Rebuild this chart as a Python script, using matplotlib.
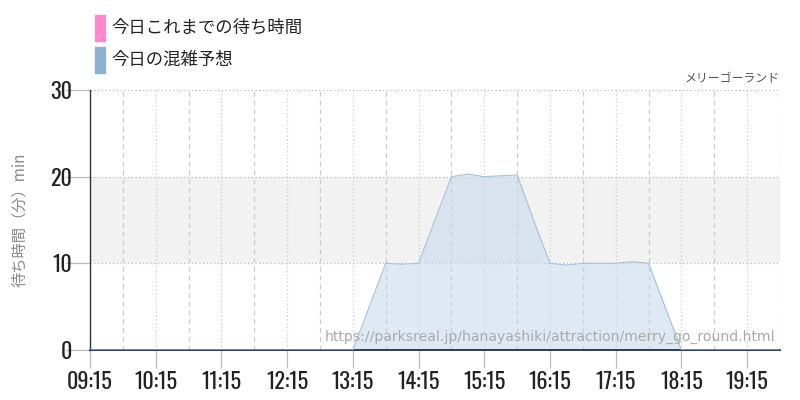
import matplotlib
matplotlib.use("Agg")
import matplotlib.pyplot as plt
from matplotlib.patches import Rectangle
import numpy as np

# ---- data ----
tick_labels = ["09:15", "10:15", "11:15", "12:15", "13:15", "14:15",
               "15:15", "16:15", "17:15", "18:15", "19:15"]
# forecast (15-minute steps from 09:15 to 19:45)
forecast = [0, 0, 0, 0, 0, 0, 0, 0, 0, 0, 0, 0, 0, 0, 0, 0, 0,
            5, 10, 9.9, 10, 15, 20, 20.3, 20, 20.1, 20.2, 15, 10,
            9.8, 10, 10, 10, 10.2, 10, 5, 0,
            0, 0, 0, 0, 0, 0]
today = []  # no actual waits recorded yet
legend_labels = ["今日これまでの待ち時間", "今日の混雑予想"]
legend_colors = ["#ff88cc", "#8fb1d0"]
attraction = "メリーゴーランド"
ylabel = "待ち時間（分）min"
url = "https://parksreal.jp/hanayashiki/attraction/merry_go_round.html"

start_h = 9.25
step_h = 0.25
x = start_h + step_h * np.arange(len(forecast))

CJK = ["Noto Sans CJK JP", "DejaVu Sans"]
NARROW = ["Oswald", "Saira ExtraCondensed", "Roboto Condensed", "DejaVu Sans"]

fig = plt.figure(figsize=(8, 4), dpi=100)
ax = fig.add_axes([90 / 800, 50 / 400, 690 / 800, 260 / 400])
ax.set_xlim(9.25, 19.75)
ax.set_ylim(0, 30)

# band between 10 and 20
ax.axhspan(10, 20, color="#f2f2f2", zorder=0, lw=0)

# gridlines
for h in np.arange(9.25, 19.76, 1.0):
    ax.axvline(h, color="#cccccc", lw=0.9, ls=(0, (1, 2)), zorder=1)
for h in np.arange(9.75, 19.76, 1.0):
    ax.axvline(h, color="#cccccc", lw=0.9, ls=(0, (4, 3)), zorder=1)
for v in [10, 20, 30]:
    ax.axhline(v, color="#bbbbbb", lw=0.9, ls=(0, (1, 2)), zorder=1)

# forecast area
ax.fill_between(x, forecast, 0, color="#c6d8ea", alpha=0.55, lw=0, zorder=2)
ax.plot(x, forecast, color="#a6c0da", lw=0.8, zorder=3)

# axes styling
for s in ["top", "right"]:
    ax.spines[s].set_visible(False)
ax.spines["left"].set_color("#333333")
ax.spines["left"].set_linewidth(1.0)
ax.spines["bottom"].set_color("#1f2f4a")
ax.spines["bottom"].set_linewidth(1.3)

ax.set_xticks(np.arange(9.25, 19.3, 1.0))
ax.set_xticklabels(tick_labels, family=NARROW, fontsize=16, weight="light", color="#222222")
ax.set_yticks([0, 10, 20, 30])
ax.set_yticklabels(["0", "10", "20", "30"], family=NARROW, fontsize=16, weight="light",
                   color="#222222")
ax.tick_params(axis="x", length=13, color="#bbbbbb", width=0.9, pad=2)
ax.tick_params(axis="y", length=17, color="#bbbbbb", width=0.9, pad=-4)

ax.set_ylabel(ylabel, family=CJK, fontsize=11, color="#888888", labelpad=16)

# watermark URL
fig.text(775 / 800, 1 - 337 / 400, url, ha="right", va="center",
         fontsize=10.1, color="#aaaaaa", family=["DejaVu Sans"], zorder=5)

# attraction name
fig.text(780 / 800, 1 - 79 / 400, attraction, ha="right", va="center",
         family=CJK, fontsize=8.6, color="#555555")

# legend
for i, (lab, col) in enumerate(zip(legend_labels, legend_colors)):
    yc = 28 + 32 * i
    fig.patches.append(Rectangle((95 / 800, 1 - (yc + 13) / 400), 10 / 800, 26 / 400,
                                 transform=fig.transFigure, color=col))
    fig.text(111 / 800, 1 - yc / 400, lab, ha="left", va="center",
             family=CJK, fontsize=12.5, color="#222222")

fig.savefig("out.png", dpi=100)
